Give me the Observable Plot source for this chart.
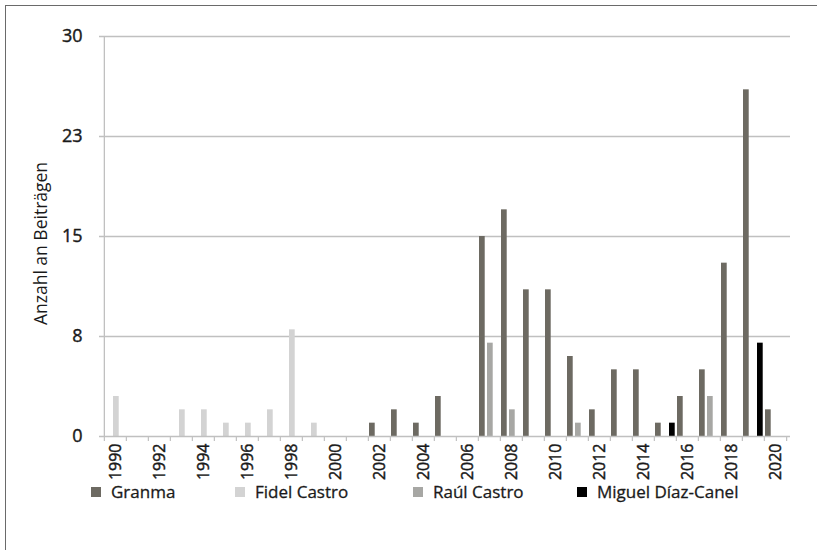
<!DOCTYPE html>
<html>
<head>
<meta charset="utf-8">
<script src="https://cdn.jsdelivr.net/npm/d3@7"></script>
<script src="https://cdn.jsdelivr.net/npm/@observablehq/plot@0.6"></script>
<style>
  html, body { margin: 0; padding: 0; background: #fff; }
  #wrap { position: relative; width: 817px; height: 550px; overflow: hidden; font-family: "Open Sans", sans-serif; color: #1a1a1a; }
  #border { position: absolute; left: 5px; top: 5px; width: 900px; height: 700px; border: 1px solid #6a6a6a; box-sizing: border-box; }
  #chart { position: absolute; left: 0; top: 0; }
  .leg { position: absolute; top: 480px; display: flex; align-items: center; font-size: 17px; white-space: nowrap; color: #1a1a1a; -webkit-text-stroke: 0.3px #1a1a1a; }
  .leg span.sw { display: inline-block; width: 10px; height: 10px; margin-right: 10px; }
  .xax text { font-size: 16px; stroke: #1a1a1a; stroke-width: 0.45px; }
  .yax text { font-size: 18px; stroke: #1a1a1a; stroke-width: 0.4px; }
  .ylab text { font-size: 17.5px; }
</style>
</head>
<body>
<div id="wrap">
  <div id="border"></div>
  <div id="chart"></div>
  <div id="legend"></div>
</div>
<script>
const years = [1990,1991,1992,1993,1994,1995,1996,1997,1998,1999,2000,2001,2002,2003,2004,2005,2006,2007,2008,2009,2010,2011,2012,2013,2014,2015,2016,2017,2018,2019,2020];
const granma   = [0,0,0,0,0,0,0,0,0,0,0,0,1,2,1,3,0,15,17,11,11,6,2,5,5,1,3,5,13,26,2];
const fidel    = [3,0,0,2,2,1,1,2,8,1,0,0,0,0,0,0,0,0,0,0,0,0,0,0,0,0,0,0,0,0,0];
const raul     = [0,0,0,0,0,0,0,0,0,0,0,0,0,0,0,0,0,7,2,0,0,1,0,0,0,0,0,3,0,0,0];
const diazCanel= [0,0,0,0,0,0,0,0,0,0,0,0,0,0,0,0,0,0,0,0,0,0,0,0,0,1,0,0,0,7,0];
const seriesNames = ["Granma", "Fidel Castro", "Raúl Castro", "Miguel Díaz-Canel"];
const seriesColors = ["#6d6a62", "#d3d3d3", "#a7a7a4", "#000000"];
const yTicks = [0, 7.5, 15, 22.5, 30];
const xLabelYears = [1990,1992,1994,1996,1998,2000,2002,2004,2006,2008,2010,2012,2014,2016,2018,2020];
const yTitle = "Anzahl an Beiträgen";

const W = 817, H = 480, mL = 99, mR = 27, mT = 36, mB = 44;
const B = (W - mL - mR) / years.length;
const barW = 6;
const offsets = [1, 9, 9, 15];
const allSeries = [granma, fidel, raul, diazCanel];

const rows = s => years.map((y, i) => ({year: y, value: allSeries[s][i]})).filter(d => d.value > 0);

const barMarks = [0, 2, 1, 3].map(s => Plot.barY(rows(s), {
  x: "year", y: "value", fill: seriesColors[s],
  insetLeft: offsets[s], insetRight: B - offsets[s] - barW
}));

const chart = Plot.plot({
  width: W, height: H,
  marginLeft: mL, marginRight: mR, marginTop: mT, marginBottom: mB,
  style: {fontFamily: "Open Sans, sans-serif", fontSize: "18px", color: "#1a1a1a", background: "transparent", overflow: "visible"},
  x: {type: "band", domain: years, padding: 0, align: 0.5},
  y: {domain: [0, 30]},
  marks: [
    Plot.ruleY(yTicks.filter(d => d > 0), {stroke: "#c0c0c0", strokeWidth: 1.3}),
    ...barMarks,
    Plot.ruleY([0], {stroke: "#c0c0c0", strokeWidth: 1.3}),
    Plot.ruleX([years[0]], {stroke: "#c0c0c0", strokeWidth: 1.3, dx: -B / 2}),
    Plot.ruleX(years, {stroke: "#c0c0c0", strokeWidth: 1.2, dx: -B / 2, insetTop: H - mT - mB - 5, dy: 5}),
    Plot.ruleX([years[years.length - 1]], {stroke: "#c0c0c0", strokeWidth: 1.2, dx: B / 2, insetTop: H - mT - mB - 5, dy: 5}),
    Plot.axisY({ticks: yTicks, tickSize: 0, tickPadding: 17, tickFormat: d => String(Math.round(d)),
      label: null, fill: "#1a1a1a", className: "yax"}),
    Plot.text([yTitle], {text: d => d, frameAnchor: "left", textAnchor: "middle", rotate: -90, dx: -58, dy: 7, fill: "#1a1a1a", className: "ylab"}),
    Plot.axisX({ticks: xLabelYears, tickSize: 0, tickPadding: 7, tickRotate: -90, tickFormat: d => String(d), label: null, fill: "#1a1a1a", className: "xax"})
  ]
});
document.getElementById("chart").appendChild(chart);

const legendLefts = [91, 235, 413, 577];
const legend = document.getElementById("legend");
seriesNames.forEach((name, i) => {
  const item = document.createElement("div");
  item.className = "leg";
  item.style.left = legendLefts[i] + "px";
  const sw = document.createElement("span");
  sw.className = "sw";
  sw.style.background = seriesColors[i];
  item.appendChild(sw);
  item.appendChild(document.createTextNode(name));
  legend.appendChild(item);
});
</script>
</body>
</html>
